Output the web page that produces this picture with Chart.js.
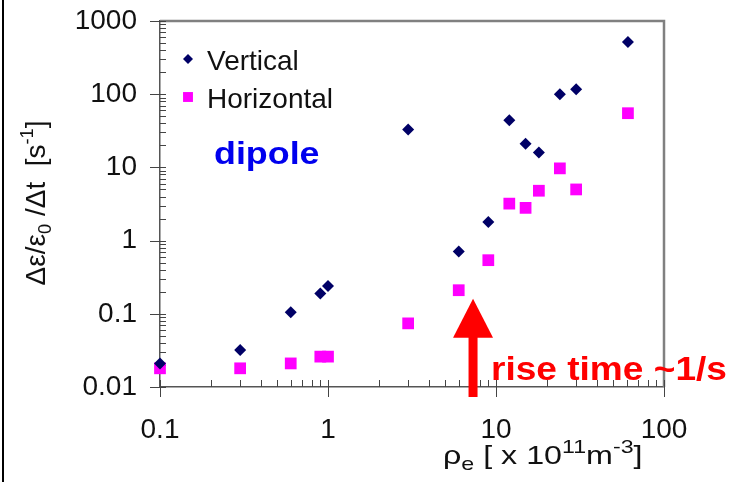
<!DOCTYPE html>
<html>
<head>
<meta charset="utf-8">
<script src="https://cdn.jsdelivr.net/npm/chart.js@4.4.0/dist/chart.umd.min.js"></script>
<style>
  html, body { margin: 0; padding: 0; background: #fff; }
  #wrap { width: 731px; height: 482px; position: relative; }
</style>
</head>
<body>
<div id="wrap"><canvas id="chart"></canvas></div>
<script>
// electron density [x 10^11 m^-3] and growth rate [1/s]
const densityVertical = [0.1, 0.3, 0.6, 0.9, 1.0, 3.0, 6.0, 9.0, 12, 15, 18, 24, 30, 61];
const rateVertical = [0.021, 0.032, 0.105, 0.19, 0.24, 33, 0.71, 1.8, 44, 21, 16, 100, 117, 517];
const densityHorizontal = [0.1, 0.3, 0.6, 0.9, 1.0, 3.0, 6.0, 9.0, 12, 15, 18, 24, 30, 61];
const rateHorizontal = [0.018, 0.018, 0.021, 0.026, 0.026, 0.074, 0.21, 0.54, 3.2, 2.8, 4.8, 9.7, 5.0, 55];
const seriesLabels = ['Vertical', 'Horizontal'];
const xTickLabels = ['0.1', '1', '10', '100'];
const yTickLabels = ['0.01', '0.1', '1', '10', '100', '1000'];

const FONT = '"Liberation Sans", Arial, sans-serif';

const isPow10 = v => Math.abs(Math.log10(v) - Math.round(Math.log10(v))) < 1e-6;

// 1..9 per decade so minor ticks exist
function decadeTicks(scale) {
  const lo = Math.round(Math.log10(scale.min));
  const hi = Math.round(Math.log10(scale.max));
  const ticks = [];
  for (let e = lo; e <= hi; e++) {
    for (let m = 1; m <= 9; m++) {
      if (e === hi && m > 1) break;
      ticks.push({ value: parseFloat((m * Math.pow(10, e)).toPrecision(3)) });
    }
  }
  scale.ticks = ticks;
}

function toPoints(xs, ys) {
  return xs.map((x, i) => ({ x: x, y: ys[i] }));
}

// text with sub/superscripts: parts = [[text, mode]], mode 0 normal, -1 sub, 1 sup
function measureRich(ctx, parts, size, small) {
  let w = 0;
  parts.forEach(([t, m]) => {
    ctx.font = (m ? size * small : size) + 'px ' + FONT;
    w += ctx.measureText(t).width;
  });
  return w;
}
function drawRich(ctx, parts, x, y, size, small) {
  let cx = x;
  parts.forEach(([t, m]) => {
    ctx.font = (m ? size * small : size) + 'px ' + FONT;
    const dy = m === -1 ? size * 0.22 : m === 1 ? -size * 0.42 : 0;
    ctx.fillText(t, cx, y + dy);
    cx += ctx.measureText(t).width;
  });
}

const decorPlugin = {
  id: 'decor',
  beforeDraw(chart) {
    const ctx = chart.ctx;
    ctx.save();
    ctx.fillStyle = '#fff';
    ctx.fillRect(0, 0, chart.width, chart.height);
    ctx.restore();
  },
  beforeDatasetsDraw(chart) {
    const ctx = chart.ctx;
    const { x, y } = chart.scales;
    const a = chart.chartArea;
    ctx.save();
    // top and right frame
    ctx.strokeStyle = '#808080';
    ctx.lineWidth = 2.5;
    ctx.beginPath();
    ctx.moveTo(a.left, a.top);
    ctx.lineTo(a.right, a.top);
    ctx.lineTo(a.right, a.bottom);
    ctx.stroke();
    // tick marks
    ctx.strokeStyle = '#444';
    ctx.lineWidth = 1;
    ctx.beginPath();
    y.ticks.forEach(t => {
      const py = Math.round(y.getPixelForValue(t.value)) + 0.5;
      const major = isPow10(t.value);
      ctx.moveTo(major ? a.left - 10 : a.left, py);
      ctx.lineTo(a.left + 6, py);
    });
    x.ticks.forEach(t => {
      const px = Math.round(x.getPixelForValue(t.value)) + 0.5;
      const major = isPow10(t.value);
      ctx.moveTo(px, a.bottom - 7);
      ctx.lineTo(px, major ? a.bottom + 10 : a.bottom);
    });
    ctx.stroke();
    ctx.restore();
  },
  afterDraw(chart) {
    const ctx = chart.ctx;
    const { x, y } = chart.scales;
    const a = chart.chartArea;
    ctx.save();

    // left border of the figure
    ctx.fillStyle = '#000';
    ctx.fillRect(2, 0, 2, chart.height);

    // legend
    ctx.textBaseline = 'alphabetic';
    chart.data.datasets.forEach((ds, i) => {
      const cy = 59 + i * 38;
      ctx.fillStyle = ds.backgroundColor;
      Chart.helpers.drawPoint(ctx, {
        pointStyle: ds.pointStyle,
        radius: ds.pointStyle === 'rect' ? 7 : 5,
        rotation: 0,
        borderWidth: 0
      }, 188, cy);
      ctx.fillStyle = '#111';
      ctx.font = '28px ' + FONT;
      ctx.fillText(ds.label, 207, cy + 11);
    });

    // dipole
    ctx.save();
    ctx.fillStyle = '#0000ee';
    ctx.font = 'bold 32px ' + FONT;
    ctx.translate(214, 164);
    ctx.scale(1.12, 1);
    ctx.fillText('dipole', 0, 0);
    ctx.restore();

    // arrow
    const ax = x.getPixelForValue(7.3);
    const tip = y.getPixelForValue(0.16);
    const base = y.getPixelForValue(0.047);
    ctx.fillStyle = '#ff0000';
    ctx.fillRect(ax - 4.5, base - 1, 9, a.bottom + 11 - base);
    ctx.beginPath();
    ctx.moveTo(ax, tip);
    ctx.lineTo(ax + 20, base);
    ctx.lineTo(ax - 20, base);
    ctx.closePath();
    ctx.fill();

    // rise time
    ctx.save();
    ctx.font = 'bold 34px ' + FONT;
    ctx.translate(491, 380);
    ctx.scale(1.09, 1);
    ctx.fillText('rise time ~1/s', 0, 0);
    ctx.restore();

    // axis titles
    ctx.fillStyle = '#111';
    const yTitle = [['\u0394\u03b5/\u03b5', 0], ['0', -1], [' /\u0394t  [s', 0], ['-1', 1], [']', 0]];
    const yw = measureRich(ctx, yTitle, 28, 0.65);
    ctx.save();
    ctx.translate(45, 203);
    ctx.rotate(-Math.PI / 2);
    drawRich(ctx, yTitle, -yw / 2, 0, 28, 0.65);
    ctx.restore();

    const xTitle = [['\u03c1', 0], ['e', -1], [' [ x 10', 0], ['11', 1], ['m', 0], ['-3', 1], [']', 0]];
    ctx.save();
    ctx.translate(443, 464);
    ctx.scale(1.24, 1);
    drawRich(ctx, xTitle, 0, 0, 26, 0.72);
    ctx.restore();

    ctx.restore();
  }
};

// keep label overhang from pushing the plot area around
function fixPadding(s) {
  s.paddingTop = 0;
  s.paddingBottom = 0;
  s.paddingLeft = 0;
  s.paddingRight = 0;
}

new Chart(document.getElementById('chart'), {
  type: 'scatter',
  data: {
    datasets: [
      {
        label: seriesLabels[0],
        data: toPoints(densityVertical, rateVertical),
        pointStyle: 'rectRot',
        pointRadius: 6,
        pointHoverRadius: 6,
        backgroundColor: '#000066',
        borderWidth: 0,
        clip: false
      },
      {
        label: seriesLabels[1],
        data: toPoints(densityHorizontal, rateHorizontal),
        pointStyle: 'rect',
        pointRadius: 8.3,
        pointHoverRadius: 8.3,
        backgroundColor: '#ff00ff',
        borderWidth: 0,
        clip: false
      }
    ]
  },
  options: {
    responsive: true,
    maintainAspectRatio: false,
    animation: false,
    events: [],
    layout: { padding: { left: 0, right: 67, top: 21, bottom: 0 } },
    plugins: {
      legend: { display: false },
      tooltip: { enabled: false }
    },
    scales: {
      x: {
        type: 'logarithmic',
        min: 0.1,
        max: 100,
        afterBuildTicks: decadeTicks,
        afterFit: s => { s.height = 95; fixPadding(s); },
        grid: { display: false, drawTicks: false },
        border: { display: true, color: '#555', width: 1.5 },
        ticks: {
          autoSkip: false,
          maxRotation: 0,
          padding: 26,
          color: '#111',
          font: { family: FONT, size: 28 },
          callback: v => isPow10(v) ? xTickLabels[Math.round(Math.log10(v)) + 1] : ''
        }
      },
      y: {
        type: 'logarithmic',
        min: 0.01,
        max: 1000,
        afterBuildTicks: decadeTicks,
        afterFit: s => { s.width = 160; fixPadding(s); },
        grid: { display: false, drawTicks: false },
        border: { display: true, color: '#555', width: 1.5 },
        ticks: {
          autoSkip: false,
          padding: 23,
          color: '#111',
          font: { family: FONT, size: 28 },
          callback: v => isPow10(v) ? yTickLabels[Math.round(Math.log10(v)) + 2] : ''
        }
      }
    }
  },
  plugins: [decorPlugin]
});
</script>
</body>
</html>
